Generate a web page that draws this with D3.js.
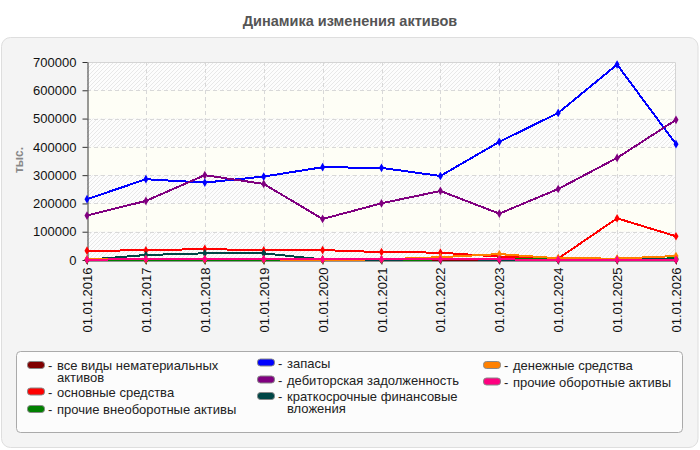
<!DOCTYPE html>
<html>
<head>
<meta charset="utf-8">
<script src="https://cdn.jsdelivr.net/npm/d3@7"></script>
<style>
  body { margin: 0; background: #fff; }
  svg text { font-family: "Liberation Sans", Arial, sans-serif; }
</style>
</head>
<body>
<svg width="700" height="450"></svg>
<script>
var dates = ["01.01.2016", "01.01.2017", "01.01.2018", "01.01.2019", "01.01.2020", "01.01.2021",
  "01.01.2022", "01.01.2023", "01.01.2024", "01.01.2025", "01.01.2026"];
var yTicks = [0, 100000, 200000, 300000, 400000, 500000, 600000, 700000];

var nematerial = [0, 0, 0, 0, 0, 0, 0, 0, 0, 0, 0];
var osnovnye = [33000, 34000, 39000, 34000, 35000, 28000, 26000, 12000, 5000, 147500, 84000];
var prochieVneob = [0, 0, 0, 0, 0, 0, 2000, 5000, 1000, 1000, 6000];
var zapasy = [215000, 285600, 273600, 295000, 328000, 325700, 297000, 417700, 520000, 691000, 409500];
var debitor = [157000, 209000, 300000, 269000, 145000, 200500, 244000, 164000, 251000, 361000, 495500];
var kratkosroch = [1000, 17700, 23600, 23600, 2000, 1000, 3000, 1000, 500, 2000, 3000];
var denezhnye = [3000, 2000, 2000, 2000, 1000, 2000, 10000, 21000, 6000, 5000, 14000];
var prochieOborot = [1000, 3000, 3000, 3000, 2000, 2000, 2000, 2000, 1000, 1000, 1000];

var series = [
  {name: "все виды нематериальных активов", color: "#800000", values: nematerial},
  {name: "основные средства", color: "#ff0000", values: osnovnye},
  {name: "прочие внеоборотные активы", color: "#008000", values: prochieVneob},
  {name: "запасы", color: "#0000ff", values: zapasy},
  {name: "дебиторская задолженность", color: "#800080", values: debitor},
  {name: "краткосрочные финансовые вложения", color: "#004646", values: kratkosroch},
  {name: "денежные средства", color: "#ff8000", values: denezhnye},
  {name: "прочие оборотные активы", color: "#ff0080", values: prochieOborot}
];

var svg = d3.select("svg");

// title
svg.append("text")
  .attr("x", 350).attr("y", 26)
  .attr("text-anchor", "middle")
  .attr("font-size", 14.5).attr("font-weight", "bold")
  .attr("fill", "#555")
  .text("Динамика изменения активов");

// outer panel
svg.append("rect")
  .attr("x", 1.5).attr("y", 37.5).attr("width", 696.5).attr("height", 410)
  .attr("rx", 9)
  .attr("fill", "#f4f4f4").attr("stroke", "#dedede");

var pLeft = 87, pRight = 676, pTop = 62, pBottom = 260;

var x = d3.scalePoint().domain(dates).range([pLeft, pRight]);
var y = d3.scaleLinear().domain([0, 700000]).range([pBottom, pTop]);

var defs = svg.append("defs");
var pat = defs.append("pattern")
  .attr("id", "hatch")
  .attr("patternUnits", "userSpaceOnUse")
  .attr("width", 4).attr("height", 4);
pat.append("rect").attr("width", 4).attr("height", 4).attr("fill", "#fdfdfd");
pat.append("path").attr("d", "M-1,1 l2,-2 M0,4 l4,-4 M3,5 l2,-2")
  .attr("stroke", "#e8e8e8").attr("stroke-width", 1);

// background bands
var bands = d3.range(0, 7);
svg.append("g").selectAll("rect")
  .data(bands)
  .join("rect")
  .attr("x", pLeft)
  .attr("y", function(d) { return y(700000 - d * 100000); })
  .attr("width", pRight - pLeft)
  .attr("height", function(d) { return y(600000 - d * 100000) - y(700000 - d * 100000); })
  .attr("fill", function(d) { return d % 2 == 0 ? "url(#hatch)" : "#fefef6"; });

// grid
var grid = svg.append("g").attr("stroke", "#d8d8d8").attr("stroke-dasharray", "4,3");
grid.selectAll("line.h")
  .data(yTicks.slice(1, -1))
  .join("line")
  .attr("x1", pLeft).attr("x2", pRight)
  .attr("y1", function(d) { return Math.round(y(d)) + 0.5; })
  .attr("y2", function(d) { return Math.round(y(d)) + 0.5; });
grid.selectAll("line.v")
  .data(dates.slice(1, -1))
  .join("line")
  .attr("x1", function(d) { return Math.round(x(d)) + 0.5; })
  .attr("x2", function(d) { return Math.round(x(d)) + 0.5; })
  .attr("y1", pTop).attr("y2", pBottom);

// frame top/right
svg.append("path")
  .attr("d", "M" + pLeft + "," + (pTop + 0.5) + "H" + (pRight - 0.5) + "V" + pBottom)
  .attr("fill", "none").attr("stroke", "#d4d4d4");

// axes
var yAxis = svg.append("g")
  .attr("transform", "translate(" + (pLeft + 0.5) + ",0)")
  .call(d3.axisLeft(y).tickValues(yTicks).tickSize(5).tickPadding(6).tickSizeOuter(0).tickFormat(d3.format("d")));
yAxis.selectAll("text").attr("font-size", 13).attr("fill", "#111").attr("font-family", "Liberation Sans, Arial, sans-serif");
yAxis.selectAll("line, path").attr("stroke", "#333");

var xAxis = svg.append("g")
  .attr("transform", "translate(0," + (pBottom + 0.5) + ")")
  .call(d3.axisBottom(x).tickSize(4).tickSizeOuter(0));
xAxis.selectAll("text")
  .attr("font-size", 13).attr("fill", "#111").attr("font-family", "Liberation Sans, Arial, sans-serif")
  .attr("text-anchor", "end")
  .attr("transform", "rotate(-90)")
  .attr("x", -7).attr("y", 0).attr("dy", "0.35em");
xAxis.selectAll("line, path").attr("stroke", "#333");

// y label
svg.append("text")
  .attr("transform", "translate(23,160) rotate(-90)")
  .attr("text-anchor", "middle")
  .attr("font-size", 12).attr("font-weight", "bold").attr("fill", "#888")
  .text("тыс.");

// lines
var line = d3.line()
  .x(function(d, i) { return x(dates[i]); })
  .y(function(d) { return y(d); });

var gLines = svg.append("g");
series.forEach(function(s) {
  gLines.append("path")
    .attr("d", line(s.values))
    .attr("fill", "none")
    .attr("stroke", s.color)
    .attr("stroke-width", 2)
    .attr("shape-rendering", "crispEdges");
  gLines.selectAll(null)
    .data(s.values)
    .join("path")
    .attr("transform", function(d, i) { return "translate(" + x(dates[i]) + "," + y(d) + ")"; })
    .attr("d", d3.symbol().type(d3.symbolDiamond).size(22))
    .attr("fill", s.color);
});

// legend
svg.append("rect")
  .attr("x", 16.5).attr("y", 351.5).attr("width", 666).attr("height", 81)
  .attr("rx", 4)
  .attr("fill", "#fcfcfc").attr("stroke", "#aaa");

var legendItems = [
  {s: 0, x: 27, y: 370, lines: ["все виды нематериальных", "активов"]},
  {s: 1, x: 27, y: 396.5, lines: ["основные средства"]},
  {s: 2, x: 27, y: 414, lines: ["прочие внеоборотные активы"]},
  {s: 3, x: 257, y: 367.5, lines: ["запасы"]},
  {s: 4, x: 257, y: 384.5, lines: ["дебиторская задолженность"]},
  {s: 5, x: 257, y: 401, lines: ["краткосрочные финансовые", "вложения"]},
  {s: 6, x: 483, y: 370, lines: ["денежные средства"]},
  {s: 7, x: 483, y: 386.5, lines: ["прочие оборотные активы"]}
];
var lg = svg.append("g");
legendItems.forEach(function(it) {
  var s = series[it.s];
  lg.append("rect")
    .attr("x", it.x + 0.5).attr("y", it.y - 8.5)
    .attr("width", 17).attr("height", 7).attr("rx", 3)
    .attr("fill", s.color).attr("stroke", "#888").attr("stroke-width", 1);
  lg.append("text")
    .attr("x", it.x + 21).attr("y", it.y)
    .attr("font-size", 13).attr("fill", "#222")
    .text("-");
  var t = lg.append("text")
    .attr("x", it.x + 30).attr("y", it.y)
    .attr("font-size", 13).attr("fill", "#222");
  it.lines.forEach(function(l, k) {
    t.append("tspan")
      .attr("x", it.x + 30)
      .attr("dy", k == 0 ? 0 : 12)
      .text(l);
  });
});
</script>
</body>
</html>
